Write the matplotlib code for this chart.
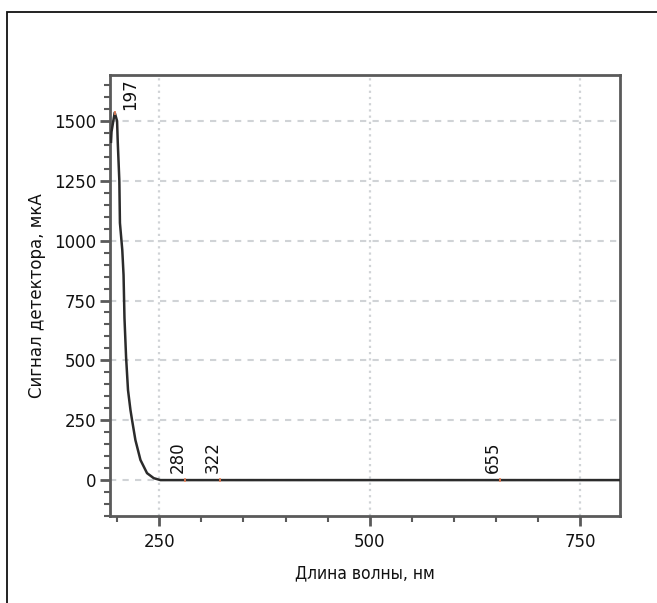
import matplotlib
matplotlib.use("Agg")
import matplotlib.pyplot as plt
from matplotlib.ticker import MultipleLocator
from matplotlib.patches import Rectangle
from matplotlib import font_manager

# Data
wavelength = [192.6, 193.2, 197.0, 199.8, 200.6, 202.5, 203.2, 206.0, 207.5, 208.6,
              210.5, 212.8, 215.7, 217.6, 221.6, 227.6, 235.4, 243.4, 251.4, 800.0]
signal = [1413, 1455, 1535, 1500, 1413, 1250, 1074, 961, 857, 677,
          514, 376, 293, 251, 167, 84, 29, 8, 0, 0]

peak_x = [197, 280, 322, 655]
peak_y = [1535, 0, 0, 0]
peak_labels = ["197", "280", "322", "655"]

x_ticks = [250, 500, 750]
y_ticks = [0, 250, 500, 750, 1000, 1250, 1500]

# pick a narrow font for the x label if available
names = {f.name for f in font_manager.fontManager.ttflist}
cond_fp = None
for f in font_manager.fontManager.ttflist:
    if f.name == "DejaVu Sans" and "Condensed" in f.fname and "Bold" not in f.fname \
            and "Oblique" not in f.fname:
        cond_fp = font_manager.FontProperties(fname=f.fname, size=12.5)
        break
if cond_fp is None:
    for nm in ["Liberation Sans Narrow", "Roboto", "Open Sans"]:
        if nm in names:
            cond_fp = font_manager.FontProperties(family=nm, size=12.5)
            break

W, H = 657, 603
fig = plt.figure(figsize=(W / 100, H / 100), dpi=100)
ax = fig.add_axes([110 / W, 1 - 516 / H, (620 - 110) / W, (516 - 75) / H])

spine_col = "#5a5a5a"
grid_col = "#d0d3d6"

ax.plot(wavelength, signal, color="#2b2b2b", lw=1.8, zorder=3)

for xv, yv, lab in zip(peak_x, peak_y, peak_labels):
    ax.plot([xv], [yv], marker="|", color="#e8825a", ms=3, mew=1.2, zorder=4)
    if lab == "197":
        ax.annotate(lab, xy=(xv, yv), xytext=(4.5, 2), textcoords="offset points",
                    rotation=90, ha="left", va="bottom", fontsize=12, color="#111111")
    else:
        ax.annotate(lab, xy=(xv, yv), xytext=(1.5, 5), textcoords="offset points",
                    rotation=90, ha="right", va="bottom", fontsize=12, color="#111111")

ax.set_xlim(191.4, 797.5)
ax.set_ylim(-150, 1692)

ax.set_xticks(x_ticks)
ax.set_yticks(y_ticks)
ax.xaxis.set_minor_locator(MultipleLocator(50))
ax.yaxis.set_minor_locator(MultipleLocator(50))

ax.tick_params(axis="both", which="major", direction="out", length=7, width=2,
               color=spine_col, labelsize=12, labelcolor="#111111")
ax.tick_params(axis="x", which="major", pad=5)
ax.tick_params(axis="y", which="major", pad=3)
ax.tick_params(axis="both", which="minor", direction="out", length=4.5, width=1.5,
               color=spine_col)

for xv in x_ticks:
    ax.axvline(xv, color=grid_col, lw=1.6, ls=(0, (1.0, 1.8)), zorder=1)
for yv in y_ticks:
    ax.axhline(yv, color=grid_col, lw=1.5, ls=(0, (3, 3)), zorder=1)

for s in ax.spines.values():
    s.set_color(spine_col)
    s.set_linewidth(2)

ax.set_ylabel("Сигнал детектора, мкА", fontsize=12, color="#111111", labelpad=6)
if cond_fp is not None:
    ax.set_xlabel("Длина волны, нм", fontproperties=cond_fp, color="#111111", labelpad=10)
else:
    ax.set_xlabel("Длина волны, нм", fontsize=12, color="#111111", labelpad=10)

fig.patches.append(Rectangle((7 / W, -0.1), 2.0, 1 - 12 / H + 0.1,
                             transform=fig.transFigure, fill=False,
                             edgecolor="#111111", lw=1.3))

fig.savefig("out.png", dpi=100)
